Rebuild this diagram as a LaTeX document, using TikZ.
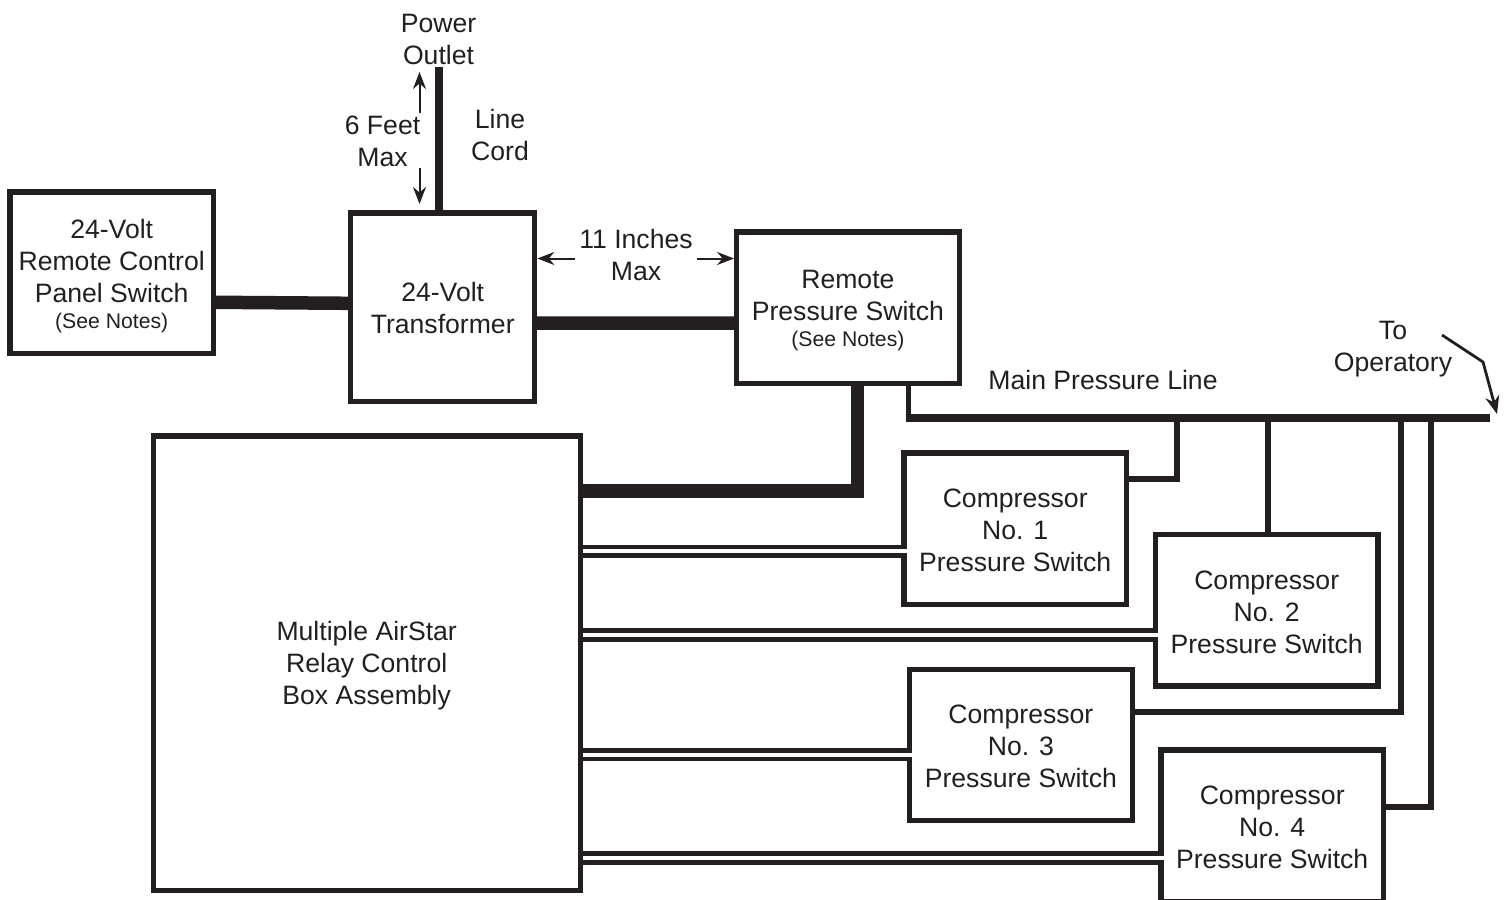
\documentclass[tikz,border=0pt]{standalone}
\usepackage{fontspec}
\setmainfont{Liberation Sans}
\usetikzlibrary{arrows.meta,calc}
\definecolor{cink}{HTML}{231F20}
\newcommand{\seenotes}{\\[-3.25pt]{\fontsize{10.6}{13.5}\selectfont (See Notes)}}
\newcommand{\compsw}[1]{\rule{0pt}{11pt}Compressor\\No. #1\\Pressure Switch}

\begin{document}
\begin{tikzpicture}[
  x=0.5pt, y=-0.5pt,
  swbox/.style={rectangle, draw=cink, line width=2.6pt, inner sep=0pt, align=center,
                text=cink, font=\fontsize{13.3}{16}\selectfont},
  comp/.style={swbox, minimum width=111.25pt, minimum height=75.75pt},
  lab/.style={align=center, inner sep=0pt, text=cink, font=\fontsize{13.3}{16}\selectfont},
  cable/.style={draw=cink, line width=6.75pt},
  cord/.style={draw=cink, line width=4pt},
  pipe/.style={draw=cink, line width=2.65pt},
  signal/.style={draw=cink, line width=2.4pt, double=white, double distance=2pt, shorten >=-2.6pt},
  dim/.style={draw=cink, line width=1pt, -{Stealth[length=8.5pt,width=6.5pt]}}
]
\useasboundingbox (0,0) rectangle (1508,899);

% --- boxes ---
\node[swbox, minimum width=101.75pt, minimum height=80.75pt] (panel) at (111.7,272.7)
  {\rule{0pt}{13.1pt}24-Volt\\Remote Control\\Panel Switch\seenotes};
\node[swbox, minimum width=92.05pt, minimum height=94.4pt] (xfmr) at (442.7,307.3)
  {\rule{0pt}{10.6pt}24-Volt\\Transformer};
\node[swbox, minimum width=111.25pt, minimum height=75.6pt] (remote) at (847.9,307.5)
  {\rule{0pt}{12.3pt}Remote\\Pressure Switch\seenotes};
\node[swbox, minimum width=213.4pt, minimum height=227.1pt] (relay) at (366.7,663)
  {\rule{0pt}{12.5pt}Multiple AirStar\\Relay Control\\Box Assembly};
\node[comp] (comp1) at (1015.2,528.8) {\compsw{1}};
\node[comp] (comp2) at (1266.7,610.3) {\compsw{2}};
\node[comp] (comp3) at (1020.9,745) {\compsw{3}};
\node[comp] (comp4) at (1272.2,825.7) {\compsw{4}};

% --- labels ---
\node[lab] (outlet) at (438.5,39) {Power\\Outlet};
\node[lab] (feet) at (382.5,141) {6 Feet\\Max};
\node[lab] (linecord) at (500,135) {Line\\Cord};
\node[lab] (inches) at (636,255) {11 Inches\\Max};
\node[lab] (mainline) at (1103,380) {Main Pressure Line};
\node[lab] (operatory) at (1393,349) {To\\Operatory};

% --- heavy wiring ---
\draw[cable] ($(panel.east)+(0,29.6)$) -- ($(xfmr.west)+(0,-4)$);
\draw[cable] ($(xfmr.east)+(-1,15.7)$) -- ($(remote.west)+(0,15.5)$);
\draw[cable] ($(remote.south)+(9.6,0)$) |- (relay.east |- 0,491);
\draw[cord] (xfmr.north -| 439,0) -- (439,67) coordinate (cordend);

% --- main pressure line and the taps ---
\coordinate (lineend) at (1490,418);
\draw[pipe] ($(remote.south)+(60.8,0)$) -- (908.7,422);
\draw[cord] (906,418) -- (lineend);
\draw[pipe] (1177,418) |- (comp1.east |- 0,479);
\draw[pipe] (1268,418) -- (comp2.north -| 1268,0);
\draw[pipe] (1401,418) |- (comp3.east |- 0,712);
\draw[pipe] (1431,418) |- (comp4.east |- 0,807);

% --- signal pairs ---
\draw[signal] (relay.east |- 0,551.3) -- (comp1.west |- 0,551.3);
\draw[signal] (relay.east |- 0,635) -- (comp2.west |- 0,635);
\draw[signal] (relay.east |- 0,754.5) -- (comp3.west |- 0,754.5);
\draw[signal] (relay.east |- 0,858) -- (comp4.west |- 0,858);

% --- dimensions ---
\draw[dim] (419.5,113) -- (419.5,72);
\draw[dim] (419.5,168) -- (419.5,204);
\draw[dim] (575,258.5) -- (xfmr.east |- 0,258.5);
\draw[dim] (697,258.5) -- (remote.west |- 0,258.5);

% --- to operatory ---
\draw[draw=cink, line width=1.4pt, -{Stealth[length=9pt,width=7pt]}]
  (1442,335) -- (1483,362) -- (1497,414);

\end{tikzpicture}
\end{document}
